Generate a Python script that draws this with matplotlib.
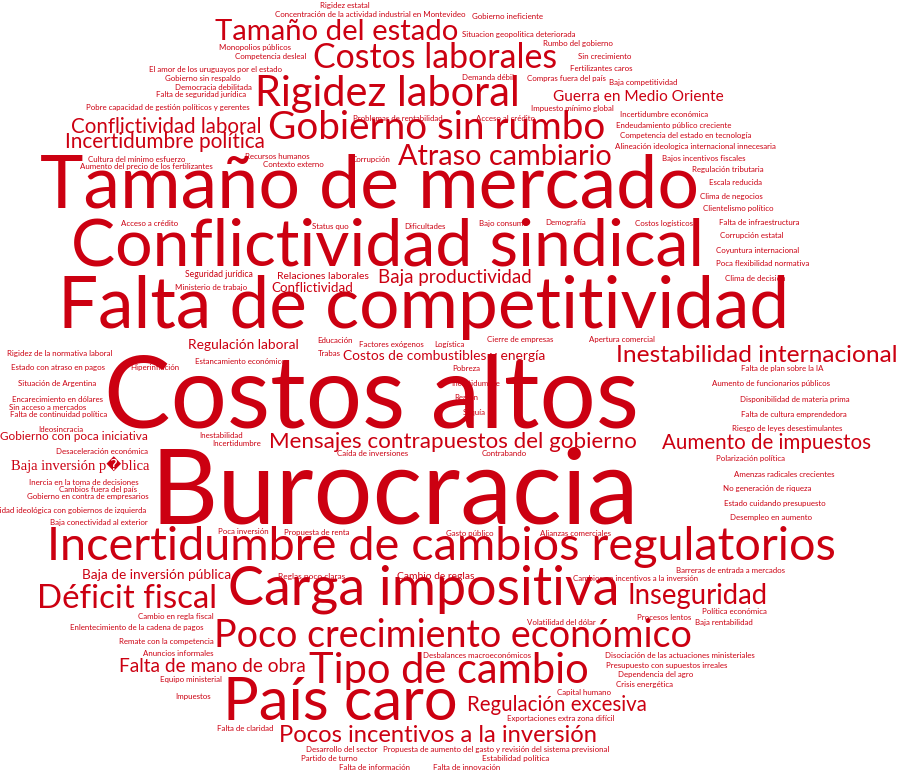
import matplotlib
matplotlib.use("Agg")
import matplotlib.pyplot as plt

# Nube de palabras: obstáculos mencionados (peso relativo, Burocracia = 100)
palabras = [
    "Rigidez estatal", "Concentración de la actividad industrial en Montevideo",
    "Gobierno ineficiente", "Tamaño del estado", "Situacion geopolitica deteriorada",
    "Rumbo del gobierno", "Monopolios públicos", "Competencia desleal",
    "Costos laborales", "Sin crecimiento",
    "Fertilizantes caros", "El amor de los uruguayos por el estado",
    "Gobierno sin respaldo", "Democracia debilitada", "Falta de seguridad jurídica",
    "Demanda débil", "Compras fuera del país", "Baja competitividad",
    "Rigidez laboral", "Guerra en Medio Oriente",
    "Pobre capacidad de gestión políticos y gerentes", "Impuesto mínimo global",
    "Incertidumbre económica", "Problemas de rentabilidad", "Acceso al crédito",
    "Endeudamiento público creciente", "Conflictividad laboral",
    "Competencia del estado en tecnología", "Gobierno sin rumbo", "Incertidumbre política",
    "Alineación ideologica internacional innecesaria", "Recursos humanos",
    "Cultura del mínimo esfuerzo", "Corrupción", "Atraso cambiario",
    "Bajos incentivos fiscales", "Contexto externo",
    "Aumento del precio de los fertilizantes", "Regulación tributaria", "Escala reducida",
    "Clima de negocios", "Tamaño de mercado", "Clientelismo político", "Demografía",
    "Falta de infraestructura", "Costos logísticos", "Acceso a crédito", "Status quo",
    "Dificultades", "Bajo consumo",
    "Corrupción estatal", "Coyuntura internacional", "Conflictividad sindical",
    "Poca flexibilidad normativa", "Seguridad jurídica", "Relaciones laborales",
    "Clima de decisión", "Baja productividad", "Ministerio de trabajo", "Conflictividad",
    "Falta de competitividad", "Apertura comercial", "Cierre de empresas", "Educación",
    "Factores exógenos", "Logística", "Regulación laboral",
    "Rigidez de la normativa laboral", "Trabas", "Costos de combustibles y energía",
    "Inestabilidad internacional", "Estancamiento económico", "Estado con atraso en pagos",
    "Hiperinflación", "Pobreza", "Falta de plan sobre la IA", "Situación de Argentina",
    "Incertidumbre", "Aumento de funcionarios públicos", "Región",
    "Disponibilidad de materia prima", "Encarecimiento en dólares", "Sin acceso a mercados",
    "Sequía", "Falta de cultura emprendedora", "Falta de continuidad política",
    "Costos altos", "Riesgo de leyes desestimulantes", "Ideosincracia", "Inestabilidad",
    "Incertidumbre", "Gobierno con poca iniciativa", "Mensajes contrapuestos del gobierno",
    "Aumento de impuestos", "Desaceleración económica", "Caída de inversiones",
    "Contrabando", "Polarización política", "Baja inversión p\ufffdblica",
    "Amenzas radicales crecientes",
    "Inercia en la toma de decisiones", "No generación de riqueza", "Cambios fuera del país",
    "Gobierno en contra de empresarios", "Estado cuidando presupuesto",
    "Afinidad ideológica con gobiernos de izquierda", "Desempleo en aumento", "Burocracia",
    "Baja conectividad al exterior", "Poca inversión",
    "Propuesta de renta", "Gasto público", "Alianzas comerciales",
    "Incertidumbre de cambios regulatorios", "Barreras de entrada a mercados",
    "Baja de inversión pública", "Reglas poco claras", "Cambio de reglas",
    "Cambios en incentivos a la inversión", "Inseguridad",
    "Carga impositiva", "Déficit fiscal", "Política económica", "Cambio en regla fiscal",
    "Procesos lentos", "Volatilidad del dólar", "Baja rentabilidad",
    "Enlentecimiento de la cadena de pagos", "Remate con la competencia",
    "Poco crecimiento económico",
    "Anuncios informales", "Desbalances macroeconómicos",
    "Disociación de las actuaciones ministeriales", "Presupuesto con supuestos irreales",
    "Falta de mano de obra", "Dependencia del agro", "Equipo ministerial", "Tipo de cambio",
    "Crisis energética", "Capital humano",
    "Impuestos", "Regulación excesiva", "País caro", "Exportaciones extra zona difícil",
    "Falta de claridad", "Pocos incentivos a la inversión", "Desarrollo del sector",
    "Propuesta de aumento del gasto y revisión del sistema previsional",
    "Partido de turno", "Estabilidad política",
    "Falta de información", "Falta de innovación",
]

pesos = [
    7.5, 7.5, 7.5, 28.1, 7.5, 7.5, 7.5, 7.5, 32.5, 7.5,
    7.5, 7.5, 7.5, 7.5, 7.5, 7.5, 7.5, 7.5, 39.9, 14.8,
    7.5, 7.5, 7.5, 7.5, 7.5, 7.5, 19.7, 7.5, 37.1, 19.9,
    7.5, 7.5, 7.5, 7.5, 27.7, 7.5, 7.5, 7.5, 7.5, 7.5,
    7.5, 70.7, 7.5, 7.5, 7.5, 7.5, 7.5, 7.5, 7.5, 7.5,
    7.5, 7.5, 63.6, 7.5, 8.3, 10.0, 7.5, 18.0, 7.5, 12.8,
    68.3, 7.5, 7.5, 7.5, 7.5, 7.5, 13.2, 7.5, 7.5, 13.2,
    23.5, 7.5, 7.5, 7.5, 7.5, 7.5, 7.5, 7.5, 7.5, 7.5,
    7.5, 7.5, 7.5, 7.5, 7.5, 7.5, 95.6, 7.5, 7.5, 7.5,
    7.5, 11.3, 21.5, 19.7, 7.5, 7.5, 7.5, 7.5, 14.0, 7.5,
    7.5, 7.5, 7.5, 7.5, 7.5, 7.5, 7.5, 100.0, 7.5, 7.5,
    7.5, 7.5, 7.5, 44.9, 7.5, 13.1, 8.0, 9.9, 7.5, 26.4,
    51.7, 31.7, 7.5, 7.5, 7.5, 7.5, 7.5, 7.5, 7.5, 36.1,
    7.5, 7.5, 7.5, 7.5, 18.4, 7.5, 7.5, 40.0, 7.5, 7.5,
    7.5, 19.7, 57.2, 7.5, 7.5, 22.8, 7.5, 7.5, 7.5, 7.8,
    7.5, 7.5,
]

# Disposición de la nube: centro horizontal y línea base de cada palabra (px)
posiciones = [
    (345, 8), (370.5, 17), (507, 19), (337, 40), (518.5, 37),
    (577.5, 46), (255, 50), (271, 59), (435.5, 68), (604.5, 59),
    (601, 71), (215.5, 72), (203, 81), (213.5, 90), (201.5, 97),
    (487.5, 80), (566.5, 81), (643.5, 85), (387.5, 106), (638.5, 101),
    (167.5, 110), (572, 111), (664, 117), (398, 121), (506, 121),
    (674, 128), (166.5, 133), (685.5, 138), (436.5, 139), (165, 148),
    (695, 149), (277.5, 159), (136.5, 162), (371, 162), (504.5, 165),
    (704, 161), (293, 167), (146, 169), (727.5, 172), (735.5, 185),
    (731, 199), (370, 207), (738, 211), (566, 225), (759, 225),
    (664, 226), (150, 226), (330, 229), (424.5, 229), (503, 226),
    (751.5, 238), (757.5, 253), (387.5, 265), (762.5, 266), (218.5, 277),
    (323, 279), (755, 281), (455, 283), (211.5, 290), (312.5, 292),
    (423.5, 328), (622, 342), (520, 342), (334.5, 343), (391, 347),
    (449, 347), (243, 349), (60, 356), (329.5, 356), (444.5, 360),
    (756.5, 362), (240.5, 364), (58, 370), (154.5, 370), (466.5, 371),
    (782, 371), (57.5, 386), (476, 386), (771, 386), (466.5, 400),
    (795, 402), (58, 402), (47.5, 410), (474, 415), (793.5, 417),
    (58.5, 417), (371.5, 427), (787.5, 431), (60.5, 432), (221.5, 438),
    (237, 446), (74, 440), (452.5, 448), (767, 449), (101.5, 454),
    (372.5, 456), (504.5, 456), (750, 461), (80, 470), (784.5, 477),
    (83.5, 485), (767, 491), (98, 492), (88, 499), (775, 506),
    (65.5, 513), (770.5, 520), (395, 523), (98.5, 525), (243.5, 534),
    (316.5, 535), (469.5, 536), (575.5, 536), (441.5, 560), (731, 573),
    (156.5, 579), (312, 579), (436, 579), (635.5, 581), (698, 604),
    (424, 605), (127, 608), (734, 614), (175.5, 619), (664, 620),
    (561.5, 625), (723.5, 625), (136.5, 630), (166, 644), (453, 647),
    (178, 656), (477, 658), (679.5, 658), (666.5, 668), (212, 672),
    (655.5, 677), (191, 682), (449, 683), (644, 687), (584, 695),
    (193, 699), (557, 711), (340, 720), (560.5, 721), (245, 731),
    (438, 742), (341.5, 752), (496.5, 752), (329.5, 761), (516, 761),
    (374.5, 770), (466.5, 770),
]

assert len(palabras) == len(pesos) == len(posiciones)

TAM_MAX = 75  # puntos para el peso 100
ROJO = "#cc0011"

fig = plt.figure(figsize=(9.1, 7.71), dpi=100)
ax = fig.add_axes([0, 0, 1, 1])
ax.set_xlim(0, 910)
ax.set_ylim(771, 0)
ax.axis("off")

for palabra, peso, (x, y) in zip(palabras, pesos, posiciones):
    if "\ufffd" in palabra:
        familia = ["Liberation Serif", "DejaVu Sans"]
    else:
        familia = ["Lato", "DejaVu Sans"]
    ax.text(x, y, palabra, fontsize=TAM_MAX * peso / 100, family=familia,
            color=ROJO, ha="center", va="baseline")

fig.savefig("out.png", dpi=100, facecolor="white")
